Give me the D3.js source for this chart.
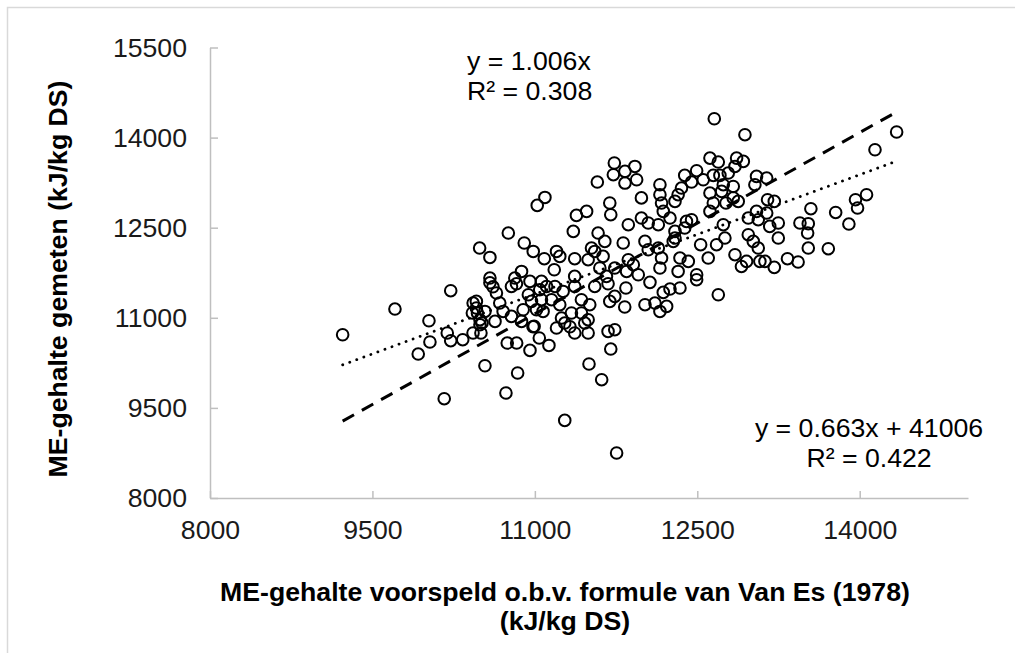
<!DOCTYPE html>
<html>
<head>
<meta charset="utf-8">
<script src="https://cdn.jsdelivr.net/npm/d3@7"></script>
<style>
  body { margin: 0; background: #fff; }
  svg text { font-family: "Liberation Sans", Arial, sans-serif; }
</style>
</head>
<body>
<svg id="chart" width="1015" height="653"></svg>
<script>
// measured ME (y) against predicted ME (x), kJ/kg DS
const predicted = [
  9225, 9708, 10223, 10022, 10191, 10031, 10223, 10334, 9923, 10163, 10430, 10423,
  10539, 10841, 10733, 11276, 11500, 11617, 11755, 11701, 10955, 11130, 11041, 10832,
  10745, 10502, 10512, 10470, 10460, 10645, 10676, 10707, 10784, 10830, 10892, 10877,
  10969, 10993, 11045, 11061, 11076, 11200, 11246, 11230, 11338, 11368, 11492, 11492,
  11507, 11430, 11553, 11676, 11676, 11738, 11692, 11738, 11186, 11368,
  11841, 11830, 12063, 12017, 12109, 12155, 12217, 12186, 12248, 12340, 12494, 12694,
  11734, 11725, 11577, 11093, 11022, 11692, 11701, 11478, 11384, 10755, 11355, 11584,
  11646, 10902, 10985, 11087, 11200, 11230, 10490, 10585, 11368, 11492, 11553, 11630,
  11600, 11738, 11179, 10877, 10815, 10585, 10955, 11061, 11368, 11661, 11523,
  12657, 12940, 11924, 11832, 11832, 11940, 12617, 12694, 12863, 12925, 12848, 12786,
  12494, 12384, 12555, 12648, 12709, 12740, 12832, 13047, 13032, 12447, 12155, 12354,
  12323, 12155, 11984, 12170, 12294, 12617, 12725, 12832, 12878, 12648, 12765, 12617,
  12186, 12248, 11984, 12047, 11863, 12140, 12400, 12447, 12384, 12294, 12740, 12971,
  13047, 13063, 12971, 13017, 13063, 13078, 12955, 12908, 12848, 12755, 12678, 12531,
  12601, 12494, 12417, 12340, 12323, 12155, 12170, 12140, 12017, 12047, 12278, 12294,
  11816, 11863, 11847, 11955, 11909,
  14341, 14141, 13141, 13149, 13211, 13141, 13248, 13169, 13248, 13549, 13448, 13525,
  13519, 13525, 13710, 13778, 13900, 13961, 13980, 14063, 13333, 13431, 13211, 13125,
  10613, 10460, 10493, 10429, 10493,
  10585, 10940, 11108, 11261, 11154, 11015, 11276, 11430, 11461, 10539, 10784, 10632,
  10983, 11324
];
const measured = [
  10718, 11146, 11451, 10951, 10747, 10597, 10619, 10635, 10397, 9653, 11246, 11080,
  10202, 10081, 9748, 9292, 10231, 9969, 8749, 10480, 10457, 10540, 10664, 10580,
  10580, 10747, 10913, 11080, 11273, 11413, 11246, 11106, 11522, 11567, 11134, 10940,
  11273, 10857, 11468, 11301, 11106, 10830, 10996, 11218, 11080, 10747, 10747, 10968,
  11218, 11301, 11522, 11567, 10774, 10802, 11273, 11356, 11522, 11522,
  11496, 11180, 11590, 11218, 11246, 11106, 11190, 11423, 11479, 11496, 11634, 11384,
  13577, 13382, 13260, 13004, 12871, 12911, 12716, 12771, 12705, 12411, 12438, 12411,
  12272, 12245, 12105, 11984, 12105, 12022, 12161, 12005, 11984, 11967, 12105, 12022,
  11829, 11829, 11800, 11772, 11662, 11662, 11606, 11606, 11689, 11689, 12161,
  14314, 14048, 13520, 13437, 13243, 13298, 13659, 13593, 13659, 13604, 13520, 13410,
  13449, 13371, 13298, 13371, 13371, 13216, 13187, 13354, 13216, 13260, 13216, 13160,
  13049, 13049, 12996, 12911, 12938, 13077, 13104, 12996, 12938, 12911, 12911, 12771,
  12771, 12661, 12661, 12578, 12550, 12550, 12605, 12633, 12494, 12438, 12550, 12661,
  12771, 12633, 12383, 12272, 12161, 11939, 11939, 11855, 12050, 12328, 12217, 12217,
  11995, 11717, 11939, 11995, 11772, 11829, 11995, 12161, 12272, 12133, 12272, 12328,
  12245, 11967, 11772, 11717, 11884,
  14093, 13798, 13327, 12966, 12938, 12744, 12578, 12522, 12328, 12816, 12578, 12567,
  12411, 12161, 12150, 12754, 12561, 12966, 12828, 13049, 11984, 11929, 11839, 11939,
  11516, 11163, 10968, 10747, 10885,
  11583, 11384, 11522, 11439, 11301, 11134, 10913, 11080, 10913, 11106, 11023, 10940,
  10851, 10851
];

const xTicks = [8000, 9500, 11000, 12500, 14000];
const yTicks = [8000, 9500, 11000, 12500, 14000, 15500];

// trend lines: y = 1.006x (through origin) and y = 0.663x + 4100.6
const trendOrigin = { slope: 1.006, intercept: 0 };
const trendLinear = { slope: 0.663, intercept: 4100.6 };

const svg = d3.select("#chart");

// frame around the chart
svg.append("rect")
  .attr("x", 7.5).attr("y", 7.5)
  .attr("width", 1030).attr("height", 670)
  .attr("fill", "none")
  .attr("stroke", "#d9d9d9")
  .attr("stroke-width", 1.5);

const x = d3.scaleLinear().domain([8000, 15000]).range([210, 968]);
const y = d3.scaleLinear().domain([8000, 15500]).range([498, 47.5]);

// axes, ticks point inward
const xAxis = d3.axisBottom(x).tickValues(xTicks).tickFormat(d3.format("d"))
  .tickSizeInner(-7).tickSizeOuter(0).tickPadding(22);
const yAxis = d3.axisLeft(y).tickValues(yTicks).tickFormat(d3.format("d"))
  .tickSizeInner(-8).tickSizeOuter(0).tickPadding(23);

const gx = svg.append("g").attr("transform", `translate(0,${y(8000)})`).call(xAxis);
const gy = svg.append("g").attr("transform", `translate(${x(8000)},0)`).call(yAxis);

[gx, gy].forEach(g => {
  g.selectAll("path, line").attr("stroke", "#bfbfbf").attr("stroke-width", 1.5);
  g.selectAll("text")
    .attr("font-size", "26.67px")
    .attr("fill", "#1a1a1a")
    .style("font-family", "'Liberation Sans', Arial, sans-serif");
});

// scatter points
svg.append("g")
  .selectAll("circle")
  .data(predicted.map((v, i) => [v, measured[i]]))
  .join("circle")
  .attr("cx", d => x(d[0]))
  .attr("cy", d => y(d[1]))
  .attr("r", 5.8)
  .attr("fill", "none")
  .attr("stroke", "#000")
  .attr("stroke-width", 2);

// trend lines across the range of the data
const [xMin, xMax] = d3.extent(predicted);
const line = d3.line().x(d => x(d[0])).y(d => y(d[1]));
const trendPts = t => [xMin, xMax].map(v => [v, t.slope * v + t.intercept]);

svg.append("path")
  .attr("d", line(trendPts(trendOrigin)))
  .attr("fill", "none")
  .attr("stroke", "#000")
  .attr("stroke-width", 3)
  .attr("stroke-dasharray", "13,9");

svg.append("path")
  .attr("d", line(trendPts(trendLinear)))
  .attr("fill", "none")
  .attr("stroke", "#000")
  .attr("stroke-width", 2.8)
  .attr("stroke-linecap", "round")
  .attr("stroke-dasharray", "0.1,7.4");

// equation labels
const eq = svg.append("g").attr("font-size", "26.67px").attr("fill", "#000");
eq.append("text").attr("x", 467).attr("y", 70).text("y = 1.006x");
eq.append("text").attr("x", 467).attr("y", 100).text("R² = 0.308");
eq.append("text").attr("x", 869).attr("y", 437).attr("text-anchor", "middle").text("y = 0.663x + 41006");
eq.append("text").attr("x", 869).attr("y", 467).attr("text-anchor", "middle").text("R² = 0.422");

// axis titles
const xt = svg.append("text")
  .attr("text-anchor", "middle")
  .attr("font-size", "26.67px")
  .attr("font-weight", "bold")
  .attr("fill", "#000");
xt.append("tspan").attr("x", 565).attr("y", 601).text("ME-gehalte voorspeld o.b.v. formule van Van Es (1978)");
xt.append("tspan").attr("x", 565).attr("y", 630).text("(kJ/kg DS)");

svg.append("text")
  .attr("transform", "translate(66.5,279) rotate(-90)")
  .attr("text-anchor", "middle")
  .attr("font-size", "26.67px")
  .attr("font-weight", "bold")
  .attr("fill", "#000")
  .text("ME-gehalte gemeten (kJ/kg DS)");
</script>
</body>
</html>
